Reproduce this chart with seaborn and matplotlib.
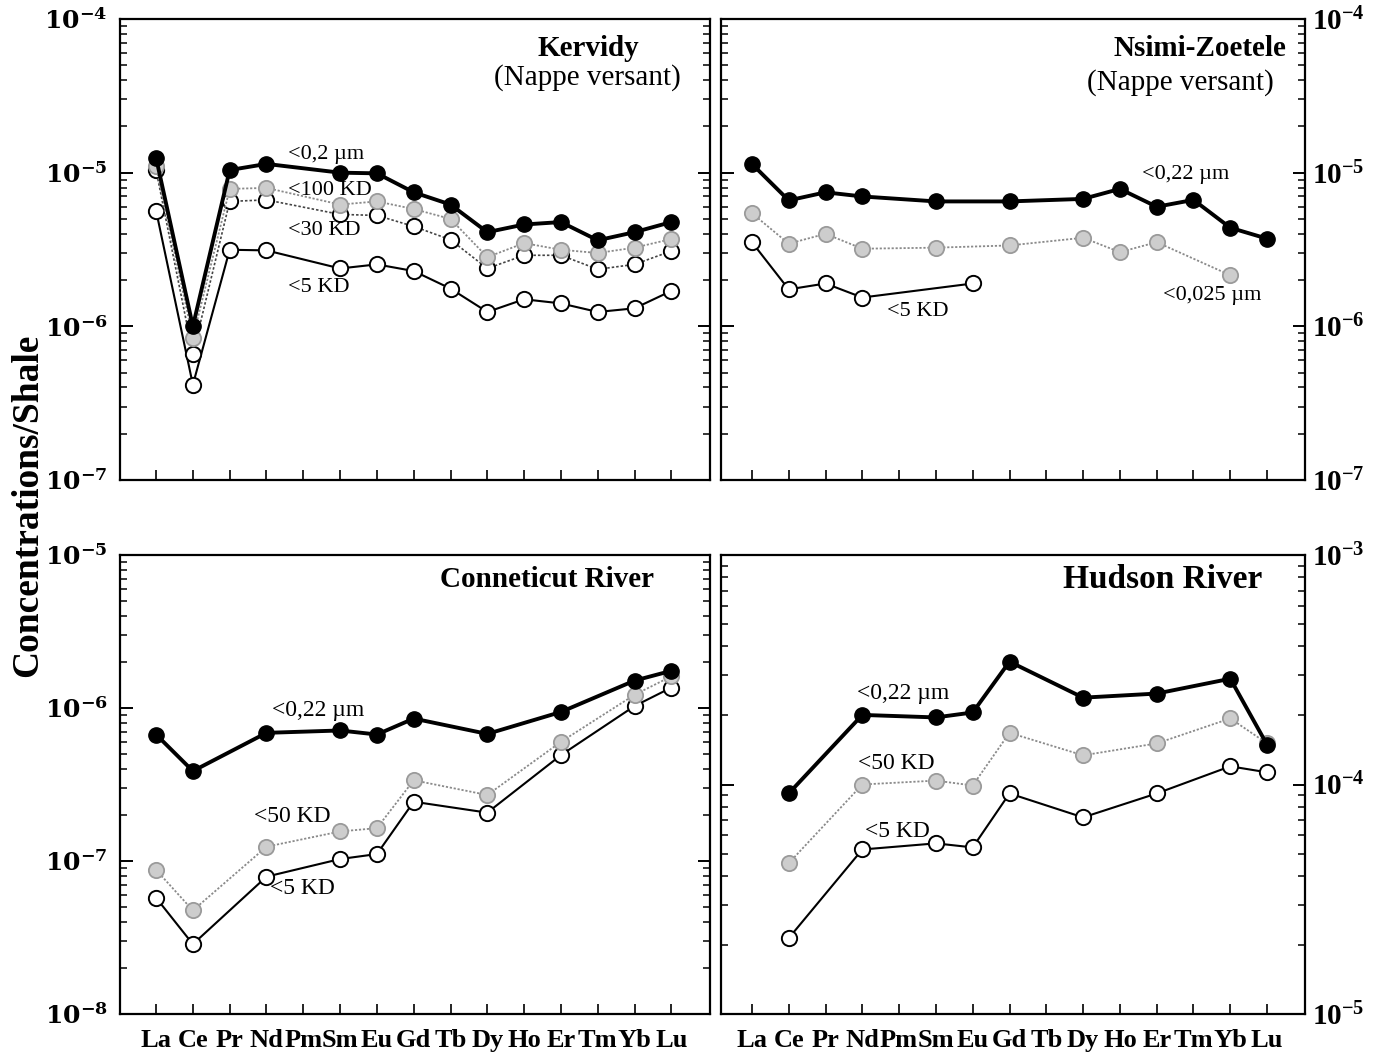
import numpy as np
import pandas as pd
import matplotlib
matplotlib.use("Agg")
import matplotlib.pyplot as plt
import seaborn as sns
from matplotlib.ticker import FixedLocator, FuncFormatter, LogLocator, NullFormatter

# ---------------- data ----------------
elements = ["La", "Ce", "Pr", "Nd", "Pm", "Sm", "Eu", "Gd", "Tb", "Dy", "Ho", "Er", "Tm", "Yb", "Lu"]

# Kervidy (Nappe versant)
kerv_elems = ["La", "Ce", "Pr", "Nd", "Sm", "Eu", "Gd", "Tb", "Dy", "Ho", "Er", "Tm", "Yb", "Lu"]
kerv_02um = [1.25e-5, 1.0e-6, 1.04e-5, 1.14e-5, 1.0e-5, 0.99e-5, 7.45e-6, 6.2e-6, 4.1e-6, 4.6e-6, 4.77e-6, 3.63e-6, 4.1e-6, 4.77e-6]
kerv_100kd = [1.1e-5, 8.4e-7, 7.84e-6, 7.96e-6, 6.2e-6, 6.5e-6, 5.8e-6, 5.0e-6, 2.82e-6, 3.48e-6, 3.15e-6, 3.0e-6, 3.25e-6, 3.7e-6]
kerv_30kd = [1.04e-5, 6.6e-7, 6.5e-6, 6.65e-6, 5.35e-6, 5.27e-6, 4.47e-6, 3.66e-6, 2.38e-6, 2.9e-6, 2.9e-6, 2.35e-6, 2.53e-6, 3.09e-6]
kerv_5kd = [5.67e-6, 4.17e-7, 3.15e-6, 3.12e-6, 2.38e-6, 2.53e-6, 2.29e-6, 1.76e-6, 1.24e-6, 1.5e-6, 1.41e-6, 1.24e-6, 1.31e-6, 1.7e-6]

# Nsimi-Zoetele (Nappe versant)
nsimi_022_elems = ["La", "Ce", "Pr", "Nd", "Sm", "Gd", "Dy", "Ho", "Er", "Tm", "Yb", "Lu"]
nsimi_022 = [1.14e-5, 6.6e-6, 7.45e-6, 7.0e-6, 6.5e-6, 6.5e-6, 6.75e-6, 7.84e-6, 6.0e-6, 6.65e-6, 4.38e-6, 3.72e-6]
nsimi_0025_elems = ["La", "Ce", "Pr", "Nd", "Sm", "Gd", "Dy", "Ho", "Er", "Yb"]
nsimi_0025 = [5.45e-6, 3.45e-6, 4.0e-6, 3.2e-6, 3.25e-6, 3.36e-6, 3.77e-6, 3.04e-6, 3.53e-6, 2.15e-6]
nsimi_5kd_elems = ["La", "Ce", "Pr", "Nd", "Eu"]
nsimi_5kd = [3.53e-6, 1.74e-6, 1.9e-6, 1.54e-6, 1.9e-6]

# Conneticut River
conn_elems = ["La", "Ce", "Nd", "Sm", "Eu", "Gd", "Dy", "Er", "Yb", "Lu"]
conn_022 = [6.71e-7, 3.87e-7, 6.88e-7, 7.13e-7, 6.71e-7, 8.53e-7, 6.77e-7, 9.42e-7, 1.51e-6, 1.75e-6]
conn_50kd = [8.75e-8, 4.75e-8, 1.24e-7, 1.56e-7, 1.64e-7, 3.37e-7, 2.7e-7, 6.01e-7, 1.22e-6, 1.61e-6]
conn_5kd = [5.75e-8, 2.86e-8, 7.9e-8, 1.03e-7, 1.11e-7, 2.44e-7, 2.07e-7, 4.92e-7, 1.03e-6, 1.36e-6]

# Hudson River
hud_elems = ["Ce", "Nd", "Sm", "Eu", "Gd", "Dy", "Er", "Yb", "Lu"]
hud_022 = [9.14e-5, 2.01e-4, 1.96e-4, 2.06e-4, 3.43e-4, 2.39e-4, 2.49e-4, 2.89e-4, 1.49e-4]
hud_50kd = [4.54e-5, 1.0e-4, 1.04e-4, 9.9e-5, 1.68e-4, 1.34e-4, 1.51e-4, 1.94e-4, 1.51e-4]
hud_5kd = [2.14e-5, 5.21e-5, 5.54e-5, 5.32e-5, 9.14e-5, 7.19e-5, 9.14e-5, 1.2e-4, 1.13e-4]

# ---------------- style ----------------
sns.set_style("ticks")
plt.rcParams["font.family"] = ["Liberation Serif", "DejaVu Serif"]
plt.rcParams["mathtext.fontset"] = "custom"
plt.rcParams["mathtext.rm"] = "Liberation Serif"
plt.rcParams["mathtext.bf"] = "Liberation Serif:bold"
for k in ["text.color", "axes.labelcolor", "xtick.color", "ytick.color", "axes.edgecolor"]:
    plt.rcParams[k] = "black"

STYLES = {
    "black": dict(color="black", lw=2.8, linestyle="-", markerfacecolor="black",
                  markeredgecolor="black", markeredgewidth=1.0),
    "gray": dict(color="#8a8a8a", lw=1.3, linestyle=(0, (1.2, 1.0)), markerfacecolor="#cdcdcd",
                 markeredgecolor="#9a9a9a", markeredgewidth=1.3),
    "white_dot": dict(color="#444444", lw=1.2, linestyle=(0, (1.5, 1.2)), markerfacecolor="white",
                      markeredgecolor="black", markeredgewidth=1.4),
    "white": dict(color="black", lw=1.5, linestyle="-", markerfacecolor="white",
                  markeredgecolor="black", markeredgewidth=1.4),
}

W, H = 1376, 1060
fig = plt.figure(figsize=(W / 100, H / 100), dpi=100)

ax_tl = fig.add_axes([120 / W, 1 - 480 / H, 590 / W, 461 / H])
ax_tr = fig.add_axes([721 / W, 1 - 480 / H, 584 / W, 461 / H])
ax_bl = fig.add_axes([120 / W, 1 - 1014 / H, 590 / W, 459 / H])
ax_br = fig.add_axes([721 / W, 1 - 1014 / H, 584 / W, 459 / H])


def draw(ax, elems, vals, style, z):
    df = pd.DataFrame({"x": [elements.index(e) for e in elems], "y": vals})
    sns.lineplot(data=df, x="x", y="y", ax=ax, marker="o", markersize=11,
                 errorbar=None, zorder=z, **STYLES[style])


def setup(ax, ylim, xlim, side, math_family, xlabels):
    ax.set_yscale("log")
    ax.set_ylim(*ylim)
    ax.set_xlim(*xlim)
    ax.set_xlabel("")
    ax.set_ylabel("")
    for s in ax.spines.values():
        s.set_visible(True)
        s.set_linewidth(1.6)
        s.set_color("black")
    lo, hi = int(round(np.log10(ylim[0]))), int(round(np.log10(ylim[1])))
    ax.yaxis.set_major_locator(FixedLocator([10.0 ** k for k in range(lo, hi + 1)]))
    ax.yaxis.set_minor_locator(LogLocator(base=10, subs=np.arange(2, 10), numticks=20))
    ax.yaxis.set_major_formatter(FuncFormatter(lambda v, p: r"$\mathbf{10^{%d}}$" % int(round(np.log10(v)))))
    ax.yaxis.set_minor_formatter(NullFormatter())
    ax.tick_params(axis="y", which="major", direction="in", length=9, width=1.4,
                   left=True, right=True, labelleft=(side == "left"), labelright=(side == "right"),
                   labelsize=18 if side == "left" else 21, pad=9 if side == "left" else 5)
    ax.tick_params(axis="y", which="minor", direction="in", length=5, width=1.1, left=True, right=True)
    ax.set_xticks(range(len(elements)))
    if xlabels:
        ax.set_xticklabels(elements, fontsize=19, fontweight="bold")
    else:
        ax.set_xticklabels([])
    ax.tick_params(axis="x", which="major", direction="in", length=7, width=1.2,
                   bottom=True, top=False, pad=11, labelbottom=xlabels)
    ax.tick_params(axis="x", which="minor", bottom=False, top=False)
    for t in ax.yaxis.get_major_ticks():
        t.label1.set_math_fontfamily(math_family)
        t.label2.set_math_fontfamily(math_family)


# Kervidy
draw(ax_tl, kerv_elems, kerv_5kd, "white", 2)
draw(ax_tl, kerv_elems, kerv_30kd, "white_dot", 3)
draw(ax_tl, kerv_elems, kerv_100kd, "gray", 4)
draw(ax_tl, kerv_elems, kerv_02um, "black", 5)
setup(ax_tl, (1e-7, 1e-4), (-0.98, 15.05), "left", "dejavuserif", False)

# Nsimi-Zoetele
draw(ax_tr, nsimi_5kd_elems, nsimi_5kd, "white", 2)
draw(ax_tr, nsimi_0025_elems, nsimi_0025, "gray", 3)
draw(ax_tr, nsimi_022_elems, nsimi_022, "black", 5)
setup(ax_tr, (1e-7, 1e-4), (-0.84, 15.03), "right", "custom", False)

# Conneticut River
draw(ax_bl, conn_elems, conn_5kd, "white", 2)
draw(ax_bl, conn_elems, conn_50kd, "gray", 3)
draw(ax_bl, conn_elems, conn_022, "black", 5)
setup(ax_bl, (1e-8, 1e-5), (-0.98, 15.05), "left", "dejavuserif", True)

# Hudson River
draw(ax_br, hud_elems, hud_5kd, "white", 2)
draw(ax_br, hud_elems, hud_50kd, "gray", 3)
draw(ax_br, hud_elems, hud_022, "black", 5)
setup(ax_br, (1e-5, 1e-3), (-0.84, 15.03), "right", "custom", True)

# ---------------- text ----------------
def lab(ax, x, y, s, size=16):
    ax.text(x, y, s, transform=ax.transAxes, ha="left", va="center", fontsize=size, zorder=10)

lab(ax_tl, 0.285, 0.705, "<0,2 µm")
lab(ax_tl, 0.285, 0.629, "<100 KD")
lab(ax_tl, 0.285, 0.542, "<30 KD")
lab(ax_tl, 0.285, 0.418, "<5 KD")

lab(ax_tr, 0.721, 0.662, "<0,22 µm")
lab(ax_tr, 0.757, 0.401, "<0,025 µm")
lab(ax_tr, 0.284, 0.365, "<5 KD")

lab(ax_bl, 0.258, 0.662, "<0,22 µm", 17)
lab(ax_bl, 0.227, 0.430, "<50 KD", 17)
lab(ax_bl, 0.254, 0.274, "<5 KD", 17)

lab(ax_br, 0.233, 0.699, "<0,22 µm", 17)
lab(ax_br, 0.235, 0.546, "<50 KD", 17)
lab(ax_br, 0.247, 0.397, "<5 KD", 17)

ax_tl.text(0.793, 0.937, "Kervidy", transform=ax_tl.transAxes, ha="center", va="center",
           fontsize=21, fontweight="bold")
ax_tl.text(0.793, 0.872, "(Nappe versant)", transform=ax_tl.transAxes, ha="center", va="center",
           fontsize=21)
ax_tr.text(0.82, 0.937, "Nsimi-Zoetele", transform=ax_tr.transAxes, ha="center", va="center",
           fontsize=21, fontweight="bold")
ax_tr.text(0.787, 0.863, "(Nappe versant)", transform=ax_tr.transAxes, ha="center", va="center",
           fontsize=21)
ax_bl.text(0.724, 0.946, "Conneticut River", transform=ax_bl.transAxes, ha="center", va="center",
           fontsize=21, fontweight="bold")
ax_br.text(0.757, 0.946, "Hudson River", transform=ax_br.transAxes, ha="center", va="center",
           fontsize=24, fontweight="bold")

fig.text(28 / W, 1 - 505 / H, "Concentrations/Shale", rotation=90, ha="center", va="center",
         fontsize=27, fontweight="bold")

fig.savefig("out.png", dpi=100, facecolor="white")
